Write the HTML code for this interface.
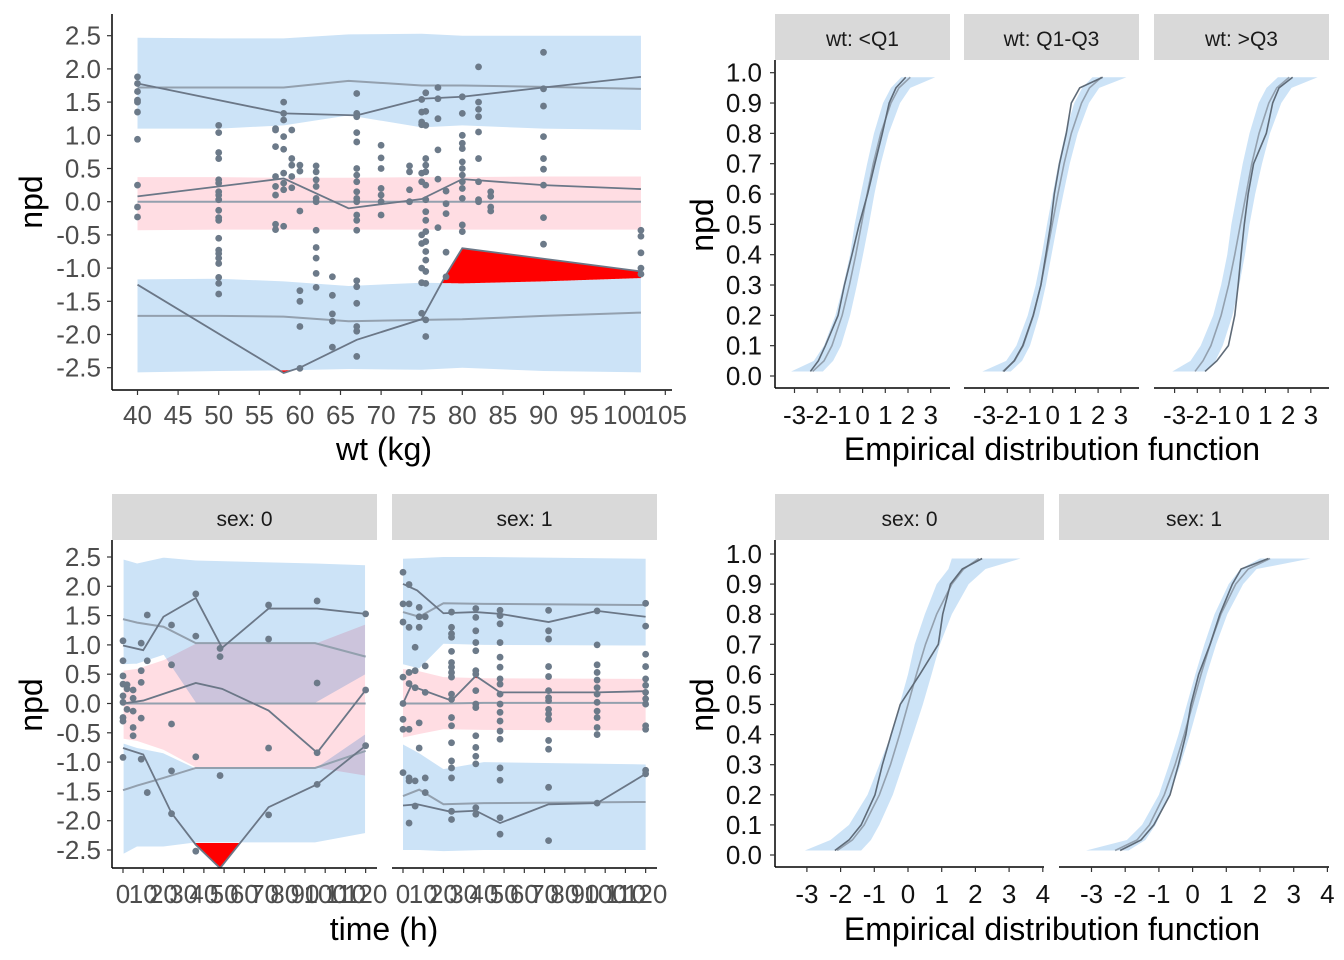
<!DOCTYPE html>
<html><head><meta charset="utf-8"><style>
html,body{margin:0;padding:0;background:#fff;}
svg{display:block;font-family:"Liberation Sans",sans-serif;}
</style></head><body>
<svg id="fig" width="1344" height="960" viewBox="0 0 1344 960" xmlns="http://www.w3.org/2000/svg">
<g id="root"></g>
</svg>
<script>
// ---------- DATA: top-left VPC vs weight ----------
const wtKnots=[40,50,58,66,75,80,90,102];
const wtUpHi=[2.47,2.46,2.46,2.52,2.53,2.5,2.5,2.5];
const wtUpLo=[1.1,1.1,1.15,1.3,1.12,1.15,1.1,1.08];
const wtUpMid=[1.72,1.72,1.72,1.82,1.75,1.75,1.73,1.7];
const wtPkHi=[0.37,0.37,0.36,0.36,0.37,0.37,0.38,0.38];
const wtPkLo=[-0.43,-0.42,-0.42,-0.42,-0.42,-0.42,-0.42,-0.42];
const wtPkMid=[0,0,0,0,0,0,0,0];
const wtLoHi=[-1.17,-1.16,-1.2,-1.27,-1.22,-1.23,-1.2,-1.15];
const wtLoLo=[-2.57,-2.55,-2.54,-2.52,-2.53,-2.5,-2.55,-2.57];
const wtLoMid=[-1.72,-1.72,-1.73,-1.8,-1.78,-1.77,-1.72,-1.67];
const wtObsUpX=[40,58,67,75,80,90,102], wtObsUpY=[1.78,1.33,1.3,1.55,1.58,1.72,1.88];
const wtObsMdX=[40,58,66,75,80,90,102], wtObsMdY=[0.08,0.35,-0.1,0.04,0.34,0.25,0.19];
const wtObsLoX=[40,58,60,67,75,78,80,102], wtObsLoY=[-1.25,-2.58,-2.5,-2.08,-1.77,-1.1,-0.7,-1.05];
const wtPtsX=[40,50,57,58,59,60,62,64,67,70,73.5,75,75.5,77,78,80,82,83.5,90,102];
const wtPtsY=[
[1.88,1.78,1.66,1.53,1.5,1.35,0.94,0.25,-0.08,-0.23],
[1.15,1.04,0.74,0.65,0.33,0.28,0.15,0.1,0.03,-0.13,-0.24,-0.28,-0.55,-0.73,-0.78,-0.85,-0.93,-1.14,-1.23,-1.39],
[1.1,1.08,0.83,0.38,0.23,0.1,-0.34,-0.42],
[1.5,1.33,1.23,0.98,0.79,0.43,0.28,0.18,-0.37],
[1.08,0.65,0.55,0.38,0.21],
[0.55,0.46,-0.14,-1.34,-1.5,-1.88,-2.51],
[0.54,0.45,0.33,0.23,0.05,0,-0.43,-0.69,-0.85,-1.08,-1.29],
[-1.13,-1.41,-1.69,-1.8,-2.19],
[1.63,1.33,1.28,1.04,0.9,0.5,0.4,0.3,0.15,0.05,0,-0.2,-0.28,-0.43,-1.19,-1.28,-1.53,-1.88,-1.95,-2.33],
[0.85,0.66,0.5,0.2,0.1,0,-0.2],
[0.54,0.45,0.18,0],
[1.54,1.35,1.2,1.16,0.43,0.3,-0.5,-0.63,-1,-1.22,-1.68],
[1.64,1.36,1.15,0.65,0.55,0.45,0.25,0.03,-0.15,-0.28,-0.45,-0.6,-0.75,-0.88,-1.05,-1.23,-1.78,-2.03],
[1.72,1.55,1.25,0.78,0.34,-0.39],
[0.16,-0.03,-0.18,-0.76,-1.13],
[1.58,1.33,1,0.88,0.8,0.6,0.5,0.4,0.3,0.2,0.05,-0.35,-0.45],
[2.03,1.5,1.39,1.28,1.05,0.65,0.3,0.03,0],
[0.15,0.08,-0.08,-0.14],
[2.25,1.7,1.44,0.98,0.65,0.49,0.25,-0.24,-0.64],
[-0.43,-0.52,-0.77,-1,-1.09]];
const wtTicks=[40,45,50,55,60,65,70,75,80,85,90,95,100,105];
const npdTicks=[2.5,2,1.5,1,0.5,0,-0.5,-1,-1.5,-2,-2.5];

// ---------- DATA: bottom-left VPC vs time, by sex ----------
const s0Knots=[0,7,20,36,95,120];
const s0UpHi=[2.47,2.4,2.5,2.45,2.4,2.37];
const s0UpLo=[0.66,0.67,0.82,0,0,0.49];
const s0UpMid=[1.44,1.38,1.31,1.03,1.03,0.8];
const s0PkHi=[0.57,0.6,0.75,1.03,1.03,1.36];
const s0PkLo=[-0.61,-0.65,-0.8,-1.1,-1.1,-1.24];
const s0PkMid=[0,0,0,0,0,0];
const s0LoHi=[-0.67,-0.75,-0.84,-1.1,-1.1,-0.51];
const s0LoLo=[-2.58,-2.45,-2.45,-2.38,-2.38,-2.22];
const s0LoMid=[-1.48,-1.4,-1.27,-1.1,-1.1,-0.81];
const s0ObsUpX=[0,10,20,36,49,72,96,120], s0ObsUpY=[0.99,0.91,1.48,1.8,0.95,1.62,1.62,1.53];
const s0ObsMdX=[0,10,36,49,72,96,120], s0ObsMdY=[0,0.05,0.35,0.25,-0.12,-0.84,0.23];
const s0ObsLoX=[0,10,24,36,48,72,96,120], s0ObsLoY=[-0.76,-0.87,-1.87,-2.41,-2.81,-1.77,-1.38,-0.72];
const s0PtsX=[0,2,5,9,12,24,36,48,72,96,120];
const s0PtsY=[[1.07,0.73,0.47,0.33,0.13,0.02,-0.24,-0.3,-0.92],[0.25,0.32,-0.1],[0.23,0.09,-0.41,-0.55,-0.13],[1.03,0.56,0.36,-0.25,-0.95],[1.51,0.73,-1.52],[1.34,0.66,-0.35,-1.15,-1.88],[1.87,1.15,-0.91,-2.52],[0.94,0.8,-1.23],[1.68,1.1,-0.76,-1.9],[1.75,0.35,-0.84,-1.38],[1.53,0.23,-0.72]];
const s1Knots=[0,8,20,40,120];
const s1UpHi=[2.47,2.48,2.5,2.5,2.47];
const s1UpLo=[0.67,0.6,1.02,1.0,0.99];
const s1UpMid=[1.56,1.48,1.71,1.7,1.68];
const s1PkHi=[0.59,0.55,0.45,0.43,0.42];
const s1PkLo=[-0.58,-0.52,-0.44,-0.45,-0.46];
const s1PkMid=[0,0,0,0.01,0.01];
const s1LoHi=[-0.7,-0.85,-1.12,-1.0,-1.04];
const s1LoLo=[-2.5,-2.5,-2.52,-2.5,-2.5];
const s1LoMid=[-1.58,-1.47,-1.72,-1.7,-1.68];
const s1ObsUpX=[0,7,20,36,48,72,96,120], s1ObsUpY=[2.04,1.93,1.54,1.56,1.53,1.39,1.58,1.48];
const s1ObsMdX=[0,4,24,36,48,72,96,120], s1ObsMdY=[0,0.3,0.05,0.47,0.19,0.19,0.19,0.21];
const s1ObsLoX=[0,7,24,36,48,72,96,120], s1ObsLoY=[-1.74,-1.72,-1.85,-1.83,-2.04,-1.72,-1.7,-1.2];
const s1PtsX=[0,3,6,8,11,24,36,48,72,96,120];
const s1PtsY=[[2.24,1.7,1.39,0.45,0,-0.27,-0.44,-1.18],[2.03,1.7,1.3,0.53,0.34,-0.44,-1.27,-2.04,-1.32],[0.96,0.56,0.27,-1.32,-1.75],[1.64,1.48,1.3,-0.33,-0.76],[1.48,0.64,0.19,-1.27,-1.52],
[1.56,1.3,1.19,1.13,0.89,0.7,0.62,0.53,0.45,0.16,0.07,-0.24,-0.38,-0.67,-0.98,-1.1,-1.27,-1.84,-1.98],
[1.62,1.47,1.24,1.04,0.9,0.56,0.5,0.22,-0.01,-0.07,-0.55,-0.75,-0.9,-1.03,-1.78,-1.89],
[1.59,1.5,1.36,1.04,0.79,0.62,0.42,0.33,0.16,-0.01,-0.15,-0.3,-0.47,-0.61,-1.1,-1.31,-1.95,-2.23],
[1.59,1.24,1.1,0.63,0.46,0.22,0.1,0.05,-0.1,-0.18,-0.27,-0.63,-0.78,-1.43,-2.34],
[1.58,1,0.66,0.53,0.4,0.27,0.16,0.02,-0.13,-0.24,-0.41,-0.53,-1.7],
[1.71,1.32,0.84,0.63,0.42,0.31,0.19,0.08,-0.01,-0.38,-0.44,-1.14,-1.2]];
const timeTicks=[0,10,20,30,40,50,60,70,80,90,100,110,120];

// ---------- DATA: ECDF panels ----------
const ecdfProbs=[0.015,0.05,0.1,0.2,0.3,0.4,0.5,0.6,0.7,0.8,0.9,0.95,0.985];
const wq1Obs=[-2.3,-1.95,-1.64,-1.08,-0.8,-0.47,-0.15,0.22,0.54,0.87,1.17,1.47,1.9];
const wq1Exp=[-2.2,-1.7,-1.35,-0.9,-0.58,-0.3,-0.05,0.2,0.47,0.8,1.25,1.6,2.1];
const wq1Lo=[-3.15,-2.15,-1.7,-1.2,-0.85,-0.55,-0.35,-0.08,0.2,0.5,0.9,1.25,1.7];
const wq1Hi=[-1.75,-1.3,-0.95,-0.55,-0.25,0.02,0.28,0.52,0.8,1.15,1.65,2.1,3.2];
const wmdObs=[-2.16,-1.7,-1.32,-0.86,-0.52,-0.3,-0.09,0.07,0.3,0.6,0.82,1.19,2.2];
const wmdExp=[-2.2,-1.68,-1.3,-0.85,-0.52,-0.27,-0.02,0.23,0.5,0.82,1.27,1.62,2.15];
const wmdLo=[-3.1,-2.05,-1.6,-1.1,-0.75,-0.48,-0.25,0,0.25,0.55,0.95,1.3,1.75];
const wmdHi=[-1.85,-1.35,-1.0,-0.6,-0.3,-0.05,0.2,0.47,0.75,1.1,1.6,2.05,3.25];
const wq3Obs=[-1.66,-1.14,-0.63,-0.35,-0.2,-0.07,0.07,0.24,0.48,1.04,1.32,1.6,2.2];
const wq3Exp=[-2.1,-1.75,-1.4,-0.95,-0.62,-0.35,-0.1,0.15,0.4,0.72,1.15,1.5,2.05];
const wq3Lo=[-3.1,-2.3,-1.85,-1.3,-0.95,-0.68,-0.5,-0.25,0,0.3,0.7,1.05,1.55];
const wq3Hi=[-1.65,-1.2,-0.88,-0.45,-0.15,0.1,0.3,0.55,0.85,1.2,1.7,2.15,3.3];
const sx0Obs=[-2.17,-1.75,-1.39,-0.98,-0.76,-0.5,-0.23,0.35,0.9,1.03,1.26,1.61,2.2];
const sx0Exp=[-2.1,-1.65,-1.3,-0.85,-0.52,-0.25,0.0,0.25,0.52,0.85,1.3,1.65,2.1];
const sx0Lo=[-3.06,-2.3,-1.75,-1.2,-0.85,-0.5,-0.25,0,0.2,0.5,0.85,1.2,1.3];
const sx0Hi=[-1.39,-1.1,-0.85,-0.45,-0.15,0.15,0.44,0.7,0.95,1.3,1.8,2.3,3.34];
const sx1Obs=[-2.15,-1.53,-1.15,-0.67,-0.42,-0.2,-0.05,0.18,0.52,0.81,1.18,1.44,2.25];
const sx1Exp=[-2.3,-1.65,-1.28,-0.84,-0.52,-0.25,0,0.25,0.52,0.84,1.28,1.65,2.3];
const sx1Lo=[-3.16,-1.95,-1.5,-1.0,-0.7,-0.42,-0.17,0.08,0.35,0.65,1.07,1.42,2.0];
const sx1Hi=[-1.9,-1.4,-1.1,-0.68,-0.36,-0.08,0.17,0.42,0.7,1.03,1.5,1.9,3.5];
const ecdfYTicks=[0,0.1,0.2,0.3,0.4,0.5,0.6,0.7,0.8,0.9,1.0];
const ecdfXTicksTop=[-3,-2,-1,0,1,2,3];
const ecdfXTicksBot=[-3,-2,-1,0,1,2,3,4];

// ---------- rendering ----------
const NS="http://www.w3.org/2000/svg";
const root=document.getElementById('root');
const TICK=26, TITLE=32, STRIP=21;
function mk(tag,attrs,parent){const e=document.createElementNS(NS,tag);for(const k in attrs)e.setAttribute(k,attrs[k]);(parent||root).appendChild(e);return e;}
function txt(s,x,y,size,anchor,fill,parent){const t=mk('text',{x:x,y:y,'font-size':size,'text-anchor':anchor,fill:fill},parent);t.textContent=s;return t;}
function interp(xs,ys,x){if(x<=xs[0])return ys[0];for(let i=1;i<xs.length;i++){if(x<=xs[i]){const f=(x-xs[i-1])/(xs[i]-xs[i-1]);return ys[i-1]+f*(ys[i]-ys[i-1]);}}return ys[ys.length-1];}
const BLUE='#cce3f7',PINK='#ffdde3',PT='#6c7a89',OBS='#6b7787',EXP='#93a0ae';
let clipId=0;
function vpc(X,Y,box,knots,bands,obs,ptsX,ptsY,name,blend){
  const g=mk('g',{});
  
  
  clipId++;
  const cp=mk('clipPath',{id:'cp'+clipId},g);mk('rect',{x:box[0],y:box[1],width:box[2]-box[0],height:box[3]-box[1]},cp);
  const pg=mk('g',{'clip-path':'url(#cp'+clipId+')'},g);
  const bg=mk('g',{style:'isolation:isolate'},pg);
  const bandNames=['upper-pi-band','median-pi-band','lower-pi-band'];
  bands.forEach((b,bi)=>{
    let d='M';knots.forEach((k,i)=>{d+=X(k)+','+Y(b.hi[i])+' L';});
    for(let i=knots.length-1;i>=0;i--){d+=X(knots[i])+','+Y(b.lo[i])+(i?' L':' Z');}
    const p=mk('path',{d:d,fill:b.col,stroke:blend?'#fff':'none','stroke-width':1.2},bg);
    if(blend)p.setAttribute('style','mix-blend-mode:multiply');
    
    
  });
  obs.forEach((o,oi)=>{
    const b=bands[oi];const x0=o.x[0],x1=o.x[o.x.length-1];const N=500;let run=[];
    const flush=()=>{if(run.length>1){let d='M'+run.map(r=>X(r[0])+','+Y(r[1])).join(' L');for(let j=run.length-1;j>=0;j--)d+=' L'+X(run[j][0])+','+Y(run[j][2]);d+=' Z';const p=mk('path',{d:d,fill:'#ff0000'},pg);}run=[];};
    for(let i=0;i<=N;i++){const x=x0+(x1-x0)*i/N;const v=interp(o.x,o.y,x);const hi=interp(knots,b.hi,x),lo=interp(knots,b.lo,x);
      if(v>hi)run.push([x,v,hi]);else if(v<lo)run.push([x,v,lo]);else flush();}
    flush();
  });
  bands.forEach(b=>{const p=mk('polyline',{points:knots.map((k,i)=>X(k)+','+Y(b.mid[i])).join(' '),fill:'none',stroke:EXP,'stroke-width':2},pg);
    });
  obs.forEach(o=>{const p=mk('polyline',{points:o.x.map((k,i)=>X(k)+','+Y(o.y[i])).join(' '),fill:'none',stroke:OBS,'stroke-width':1.8},pg);
    });
  ptsX.forEach((px,i)=>ptsY[i].forEach(v=>{const c=mk('circle',{cx:X(px),cy:Y(v),r:3.4,fill:PT},pg);
    }));
  return g;
}
function mkBands(uH,uL,uM,pH,pL,pM,lH,lL,lM){return[{hi:uH,lo:uL,mid:uM,col:BLUE},{hi:pH,lo:pL,mid:pM,col:PINK},{hi:lH,lo:lL,mid:lM,col:BLUE}];}

// --- Top-left ---
(function(){
  const X=v=>137.5+(v-40)*8.12, Y=v=>201.7-v*66.4;
  vpc(X,Y,[112,14,672,390],wtKnots,mkBands(wtUpHi,wtUpLo,wtUpMid,wtPkHi,wtPkLo,wtPkMid,wtLoHi,wtLoLo,wtLoMid),
   [{x:wtObsUpX,y:wtObsUpY},{x:wtObsMdX,y:wtObsMdY},{x:wtObsLoX,y:wtObsLoY}],wtPtsX,wtPtsY,'vpc-weight-panel',false);
  mk('line',{x1:112,y1:14,x2:112,y2:390,stroke:'#000','stroke-width':1.5});
  mk('line',{x1:112,y1:390,x2:672,y2:390,stroke:'#000','stroke-width':1.5});
  npdTicks.forEach(t=>{mk('line',{x1:107,x2:112,y1:Y(t),y2:Y(t),stroke:'#333','stroke-width':1.2});const e=txt(t.toFixed(1),101,Y(t)+9,TICK,'end','#4d4d4d');});
  wtTicks.forEach(t=>{mk('line',{x1:X(t),x2:X(t),y1:390,y2:395,stroke:'#333','stroke-width':1.2});const e=txt(String(t),X(t),424,TICK,'middle','#4d4d4d');});
  const a=txt('wt (kg)',384,460,TITLE,'middle','#000');
  const b=txt('npd',0,0,TITLE,'middle','#000');b.setAttribute('transform','translate(42,202) rotate(-90)');
})();

// --- Bottom-left ---
(function(){
  const Y=v=>703.5-v*58.6;
  const panels=[{x0:112,x1:377,o:123,label:'sex: 0',k:s0Knots,b:mkBands(s0UpHi,s0UpLo,s0UpMid,s0PkHi,s0PkLo,s0PkMid,s0LoHi,s0LoLo,s0LoMid),obs:[{x:s0ObsUpX,y:s0ObsUpY},{x:s0ObsMdX,y:s0ObsMdY},{x:s0ObsLoX,y:s0ObsLoY}],px:s0PtsX,py:s0PtsY,blend:true},
   {x0:392,x1:657,o:403,label:'sex: 1',k:s1Knots,b:mkBands(s1UpHi,s1UpLo,s1UpMid,s1PkHi,s1PkLo,s1PkMid,s1LoHi,s1LoLo,s1LoMid),obs:[{x:s1ObsUpX,y:s1ObsUpY},{x:s1ObsMdX,y:s1ObsMdY},{x:s1ObsLoX,y:s1ObsLoY}],px:s1PtsX,py:s1PtsY,blend:false}];
  panels.forEach((p,pi)=>{
    const X=t=>p.o+t*2.022;
    const s=mk('rect',{x:p.x0,y:494,width:p.x1-p.x0,height:46,fill:'#d9d9d9'});
    const st=txt(p.label,(p.x0+p.x1)/2,526,STRIP,'middle','#1a1a1a');
    vpc(X,Y,[p.x0,540,p.x1,868],p.k,p.b,p.obs,p.px,p.py,'vpc-time-panel-'+pi,p.blend);
    mk('line',{x1:p.x0,y1:868,x2:p.x1,y2:868,stroke:'#000','stroke-width':1.5});
    timeTicks.forEach(t=>{mk('line',{x1:X(t),x2:X(t),y1:868,y2:873,stroke:'#333','stroke-width':1.2});const e=txt(String(t),X(t),903,TICK,'middle','#4d4d4d');});
  });
  mk('line',{x1:112,y1:540,x2:112,y2:868,stroke:'#000','stroke-width':1.5});
  npdTicks.forEach(t=>{mk('line',{x1:107,x2:112,y1:Y(t),y2:Y(t),stroke:'#333','stroke-width':1.2});const e=txt(t.toFixed(1),101,Y(t)+9,TICK,'end','#4d4d4d');});
  const a=txt('time (h)',384,940,TITLE,'middle','#000');
  const b=txt('npd',0,0,TITLE,'middle','#000');b.setAttribute('transform','translate(42,705) rotate(-90)');
})();

// --- ECDF panels ---
function ecdfPanel(x0,x1,zero,unit,Y,axisY,lo,hi,ex,ob,xticks,name){
  const X=v=>zero+v*unit;
  const g=mk('g',{});
  let d='M'+ecdfProbs.map((p,i)=>X(lo[i])+','+Y(p)).join(' L');
  for(let i=ecdfProbs.length-1;i>=0;i--)d+=' L'+X(hi[i])+','+Y(ecdfProbs[i]);d+=' Z';
  const b=mk('path',{d:d,fill:BLUE},g);
  const e=mk('polyline',{points:ecdfProbs.map((p,i)=>X(ex[i])+','+Y(p)).join(' '),fill:'none',stroke:EXP,'stroke-width':1.6},g);
  const o=mk('polyline',{points:ecdfProbs.map((p,i)=>X(ob[i])+','+Y(p)).join(' '),fill:'none',stroke:'#5f6b78','stroke-width':1.6},g);
  mk('line',{x1:x0,y1:axisY,x2:x1,y2:axisY,stroke:'#000','stroke-width':1.5});
  xticks.forEach(t=>{mk('line',{x1:X(t),x2:X(t),y1:axisY,y2:axisY+5,stroke:'#333','stroke-width':1.2});const l=txt(String(t),X(t),axisY+36,TICK,'middle','#111');});
}
function strip(x0,x1,y0,label){const s=mk('rect',{x:x0,y:y0,width:x1-x0,height:46,fill:'#d9d9d9'});
  const t=txt(label,(x0+x1)/2,y0+32,STRIP,'middle','#1a1a1a');}
(function(){
  const Y=p=>376-p*303.3;
  const P=[[775,950,862.6,'wt: <Q1',wq1Lo,wq1Hi,wq1Exp,wq1Obs],[964,1139,1052.7,'wt: Q1-Q3',wmdLo,wmdHi,wmdExp,wmdObs],[1154,1329,1242.7,'wt: >Q3',wq3Lo,wq3Hi,wq3Exp,wq3Obs]];
  P.forEach((p,i)=>{strip(p[0],p[1],14,p[3]);ecdfPanel(p[0],p[1],p[2],22.7,Y,388,p[4],p[5],p[6],p[7],ecdfXTicksTop,'ecdf-weight-panel-'+i);});
  mk('line',{x1:775,y1:60,x2:775,y2:388,stroke:'#000','stroke-width':1.5});
  ecdfYTicks.forEach(t=>{mk('line',{x1:770,x2:775,y1:Y(t),y2:Y(t),stroke:'#333','stroke-width':1.2});const e=txt(t.toFixed(1),762,Y(t)+9,TICK,'end','#111');});
  const a=txt('Empirical distribution function',1052,460,TITLE,'middle','#000');
  const b=txt('npd',0,0,TITLE,'middle','#000');b.setAttribute('transform','translate(713,225) rotate(-90)');
})();
(function(){
  const Y=p=>855-p*301;
  const P=[[775,1044,908,'sex: 0',sx0Lo,sx0Hi,sx0Exp,sx0Obs],[1059,1329,1192.6,'sex: 1',sx1Lo,sx1Hi,sx1Exp,sx1Obs]];
  P.forEach((p,i)=>{strip(p[0],p[1],494,p[3]);ecdfPanel(p[0],p[1],p[2],33.7,Y,867,p[4],p[5],p[6],p[7],ecdfXTicksBot,'ecdf-sex-panel-'+i);});
  mk('line',{x1:775,y1:540,x2:775,y2:867,stroke:'#000','stroke-width':1.5});
  ecdfYTicks.forEach(t=>{mk('line',{x1:770,x2:775,y1:Y(t),y2:Y(t),stroke:'#333','stroke-width':1.2});const e=txt(t.toFixed(1),762,Y(t)+9,TICK,'end','#111');});
  const a=txt('Empirical distribution function',1052,940,TITLE,'middle','#000');
  const b=txt('npd',0,0,TITLE,'middle','#000');b.setAttribute('transform','translate(713,705) rotate(-90)');
})();
</script>
</body></html>
